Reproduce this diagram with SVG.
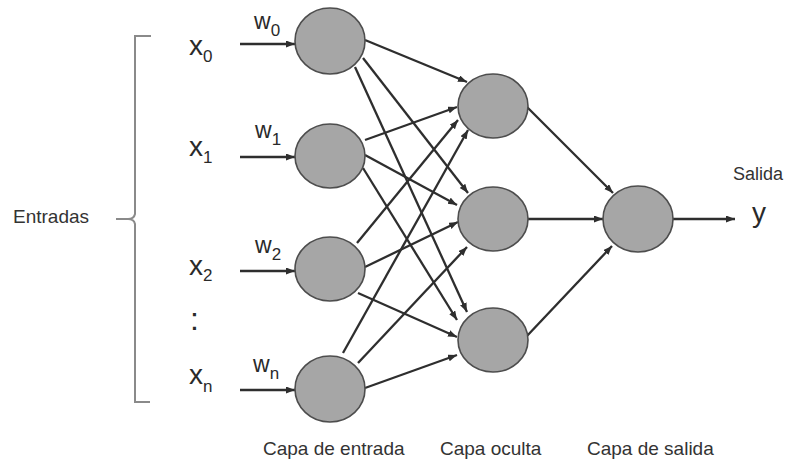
<svg xmlns="http://www.w3.org/2000/svg" width="786" height="463" viewBox="0 0 786 463">
<style>
.node{fill:#a6a6a6;stroke:#4d4d4d;stroke-width:1.6}
.edge{stroke:#2e2e2e;stroke-width:2.3;fill:none;marker-end:url(#ah)}
.t{font-family:"Liberation Sans",Arial,sans-serif;fill:#2a2a2a}
.var{font-size:28px}
.w{font-size:23px}
.sub{font-size:17px}
.lbl{font-size:19px;fill:#333}
.brace{stroke:#8a8a8a;stroke-width:2;fill:none}
</style>
<defs>
<marker id="ah" markerUnits="userSpaceOnUse" markerWidth="10" markerHeight="8" refX="9" refY="3.5" orient="auto">
<path d="M0,0 L9,3.5 L0,7 z" fill="#2e2e2e"/>
</marker>
</defs>
<rect width="786" height="463" fill="#fff"/>

<g id="brace">
<path class="brace" d="M151,36 L135,36 L135,214 Q134,219 128,219 L116,219 M128,219 Q134,219 135,224 L135,402 L150,402"/>
</g>
<g id="label-entradas"><text class="t lbl" x="13" y="223">Entradas</text></g>

<g id="inputs">
<text class="t var" x="189" y="55">x<tspan class="sub" dy="7">0</tspan></text>
<text class="t var" x="189" y="156">x<tspan class="sub" dy="7">1</tspan></text>
<text class="t var" x="189" y="275">x<tspan class="sub" dy="6">2</tspan></text>
<text class="t var" x="190" y="330" style="font-size:32px">:</text>
<text class="t var" x="189" y="384">x<tspan class="sub" dy="8">n</tspan></text>
<text class="t w" x="254" y="29">w<tspan class="sub" dy="7">0</tspan></text>
<text class="t w" x="255" y="138">w<tspan class="sub" dy="7">1</tspan></text>
<text class="t w" x="255" y="253">w<tspan class="sub" dy="7">2</tspan></text>
<text class="t w" x="253" y="372">w<tspan class="sub" dy="7">n</tspan></text>
</g>

<g id="connectors">
<line class="edge" x1="240" y1="44" x2="295" y2="44"/>
<line class="edge" x1="240" y1="157" x2="295" y2="157"/>
<line class="edge" x1="240" y1="271" x2="295" y2="271"/>
<line class="edge" x1="240" y1="390" x2="295" y2="390"/>

<line class="edge" x1="365" y1="40" x2="467" y2="82"/>
<line class="edge" x1="363" y1="58" x2="468" y2="193"/>
<line class="edge" x1="355" y1="67" x2="467" y2="312"/>

<line class="edge" x1="365" y1="140" x2="457" y2="107"/>
<line class="edge" x1="365" y1="155" x2="457" y2="205"/>
<line class="edge" x1="363" y1="168" x2="457" y2="320"/>

<line class="edge" x1="357" y1="243" x2="458" y2="120"/>
<line class="edge" x1="365" y1="267" x2="458" y2="222"/>
<line class="edge" x1="358" y1="293" x2="457" y2="337"/>

<line class="edge" x1="343" y1="353" x2="468" y2="130"/>
<line class="edge" x1="358" y1="363" x2="467" y2="247"/>
<line class="edge" x1="365" y1="388" x2="457" y2="355"/>

<line class="edge" x1="527" y1="107" x2="613" y2="193"/>
<line class="edge" x1="528" y1="219" x2="603" y2="219"/>
<line class="edge" x1="526" y1="337" x2="612" y2="246"/>

<line class="edge" x1="673" y1="219" x2="735" y2="219"/>
</g>

<g id="in0"><ellipse class="node" cx="330" cy="41" rx="35" ry="33"/></g>
<g id="in1"><ellipse class="node" cx="330" cy="156" rx="35" ry="32"/></g>
<g id="in2"><ellipse class="node" cx="330" cy="269" rx="35" ry="32"/></g>
<g id="inn"><ellipse class="node" cx="330" cy="389" rx="35" ry="33"/></g>

<g id="h0"><ellipse class="node" cx="493" cy="106" rx="35" ry="32"/></g>
<g id="h1"><ellipse class="node" cx="493" cy="219" rx="35" ry="32"/></g>
<g id="h2"><ellipse class="node" cx="493" cy="340" rx="35" ry="32"/></g>

<g id="out"><ellipse class="node" cx="638" cy="219" rx="35" ry="33"/></g>

<g id="output-labels">
<text class="t lbl" x="733" y="180" style="font-size:18px">Salida</text>
<text class="t var" x="752" y="222">y</text>
</g>

<g id="layer-labels">
<text class="t lbl" x="263" y="455">Capa de entrada</text>
<text class="t lbl" x="440" y="455">Capa oculta</text>
<text class="t lbl" x="587" y="455">Capa de salida</text>
</g>
</svg>
